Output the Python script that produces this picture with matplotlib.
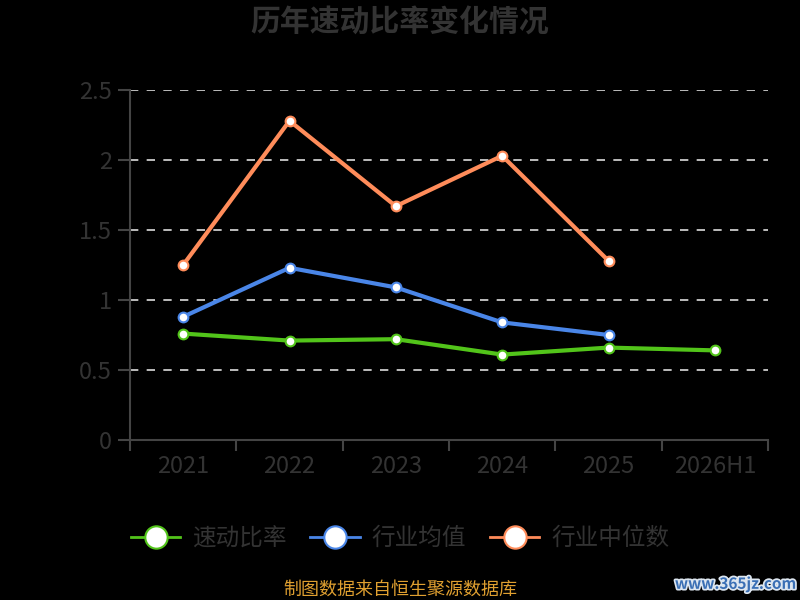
import matplotlib
matplotlib.use("Agg")
import matplotlib.pyplot as plt
import matplotlib.patheffects as pe

plt.rcParams['font.family'] = ['Noto Sans CJK SC', 'DejaVu Sans']

years = ["2021", "2022", "2023", "2024", "2025", "2026H1"]
quick_ratio = [0.76, 0.71, 0.72, 0.61, 0.66, 0.64]
industry_mean = [0.88, 1.23, 1.09, 0.84, 0.75]
industry_median = [1.25, 2.28, 1.67, 2.03, 1.28]

series = [
    ("速动比率", quick_ratio, "#52c41a"),
    ("行业均值", industry_mean, "#4a86e8"),
    ("行业中位数", industry_median, "#ff8c5a"),
]


def main():
    fig = plt.figure(figsize=(8, 6), dpi=100, facecolor="black")
    ax = fig.add_axes([0.1625, 0.2667, 0.7975, 0.5833], facecolor="black")

    for name, vals, color in series:
        xs = list(range(len(vals)))
        ax.plot(xs, vals, color=color, lw=3, marker="o", ms=7,
                mfc="white", mec=color, mew=1.5, label=name, zorder=3,
                clip_on=False)

    ax.set_xlim(-0.5, len(years) - 0.5)
    ax.set_ylim(0, 2.5)
    ax.set_yticks([0, 0.5, 1, 1.5, 2, 2.5])
    ax.set_yticklabels(["0", "0.5", "1", "1.5", "2", "2.5"])
    ax.set_xticks(range(len(years)))
    ax.set_xticklabels(years)
    ax.set_xticks([i - 0.5 for i in range(len(years) + 1)], minor=True)
    ax.tick_params(axis="x", which="major", length=0, pad=11, labelsize=17, labelcolor="#333333")
    ax.tick_params(axis="x", which="minor", length=8, width=1.5, color="#444444")
    ax.tick_params(axis="y", length=9, width=1.5, color="#444444", pad=4,
                   labelsize=17, labelcolor="#333333")

    for sp in ["top", "right"]:
        ax.spines[sp].set_visible(False)
    for sp in ["left", "bottom"]:
        ax.spines[sp].set_color("#444444")
        ax.spines[sp].set_linewidth(1.5)

    for v in [0.5, 1, 1.5, 2, 2.5]:
        ax.axhline(v, color="#dddddd", lw=1.2, ls=(0, (5, 5)), zorder=1)

    fig.text(0.5, 0.962, "历年速动比率变化情况", ha="center", va="center",
             fontsize=21.5, fontweight="bold", color="#333333")

    leg = fig.legend(loc="center", bbox_to_anchor=(0.5, 0.102), ncol=3,
                     frameon=False, fontsize=17, handlelength=2.1,
                     columnspacing=1.0, handletextpad=0.5, markerscale=2.3)
    for t in leg.get_texts():
        t.set_color("#333333")
    for h in leg.legend_handles:
        h.set_linewidth(2)

    fig.text(0.5, 0.017, "制图数据来自恒生聚源数据库", ha="center", va="center",
             fontsize=13, color="#e0a030")
    fig.text(0.995, 0.027, "www.365jz.com", ha="right", va="center",
             fontsize=11, fontweight="bold", color="#3a6fb5",
             path_effects=[pe.withStroke(linewidth=2.5, foreground="#dde6f0")])

    fig.savefig("out.png", dpi=100, facecolor="black")


if __name__ == "__main__":
    main()
